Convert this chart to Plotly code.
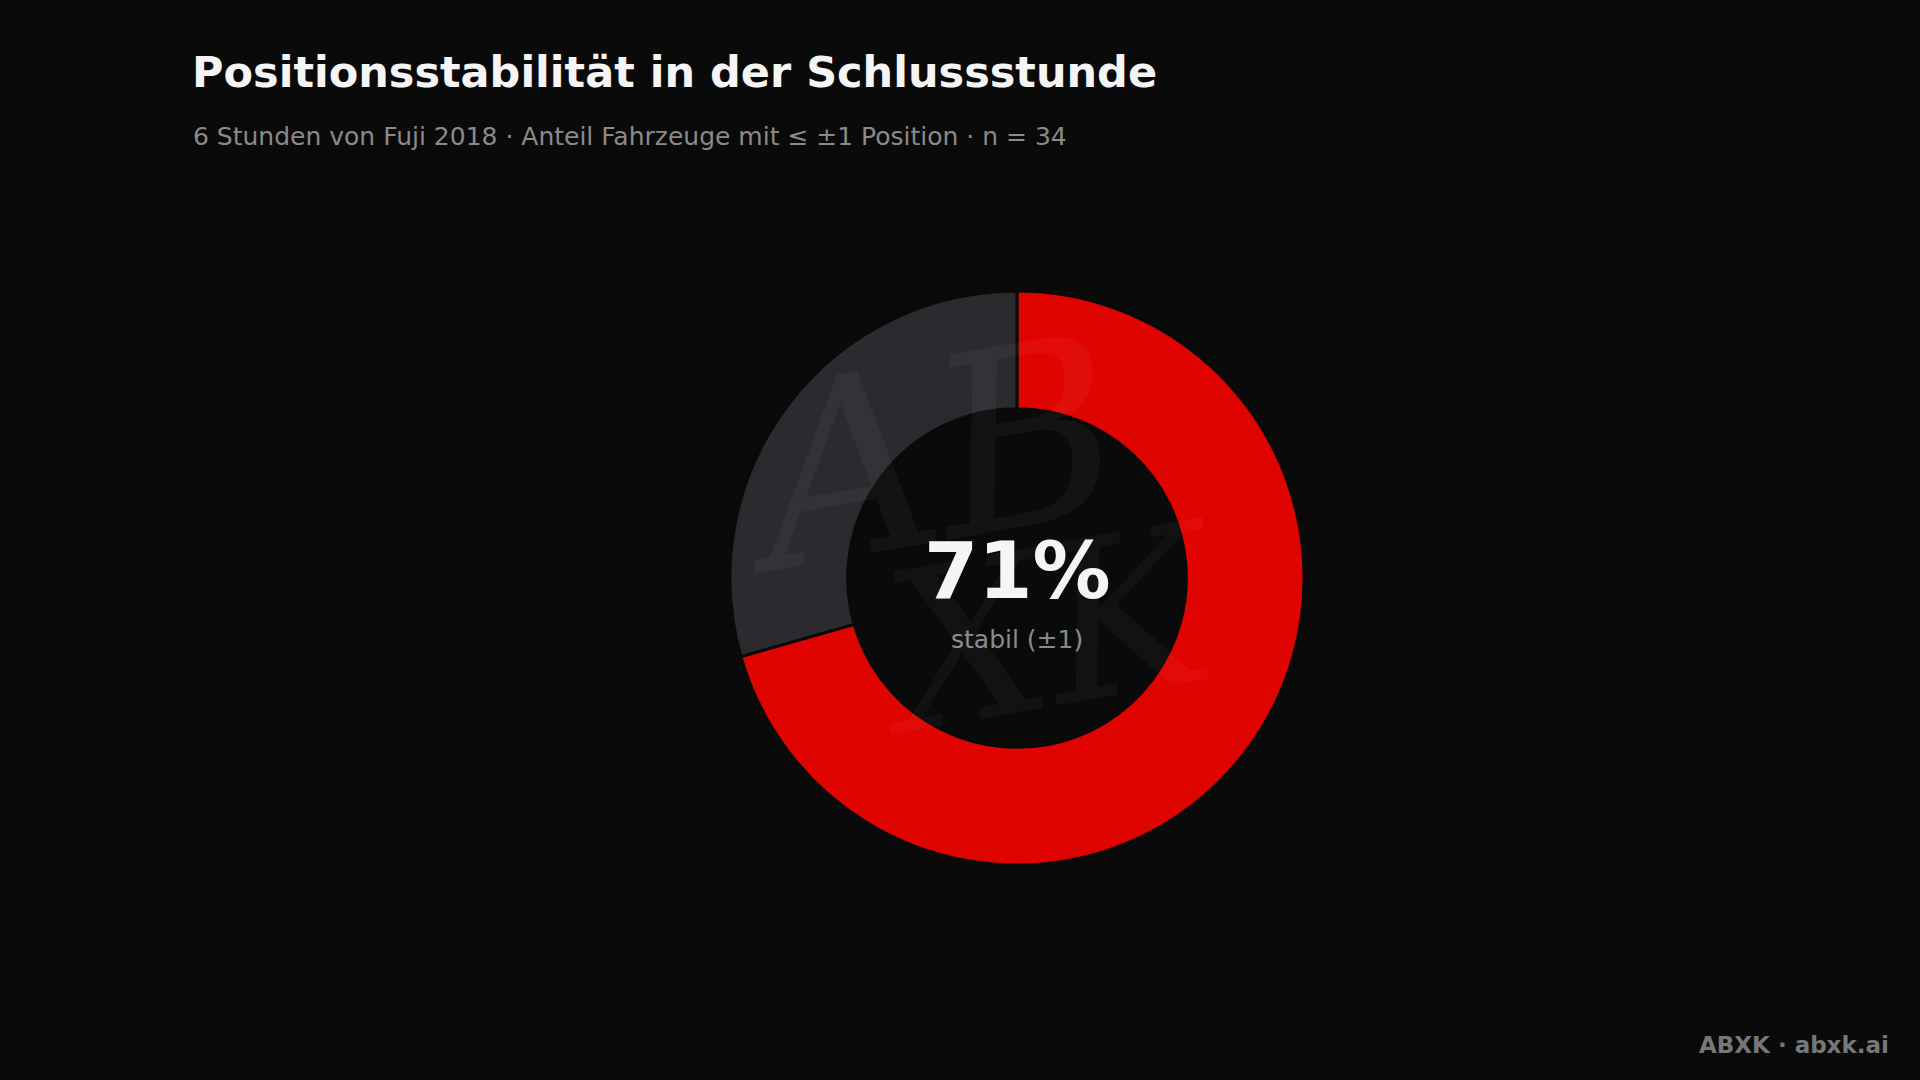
import plotly.graph_objects as go

labels = ["stabil (±1)", "instabil"]
values = [24, 10]
colors = ["#e00400", "#2b2a2f"]

title = "Positionsstabilität in der Schlussstunde"
subtitle = "6 Stunden von Fuji 2018 · Anteil Fahrzeuge mit ≤ ±1 Position · n = 34"
center_value = "71%"
center_label = "stabil (±1)"
footer = "ABXK · abxk.ai"

# page offset of the default body margin
OFF = 8
W, H = 1920 - 2 * OFF, 1080 - 2 * OFF


def px(x):
    return (x - OFF) / W


def py(y):
    return 1 - (y - OFF) / H


cx, cy, r = 1017, 578, 287

fig = go.Figure(go.Pie(
    labels=labels, values=values, hole=0.59, sort=False, direction="clockwise",
    rotation=0, textinfo="none", hoverinfo="label+value+percent",
    marker=dict(colors=colors, line=dict(color="#0a0a0a", width=3)),
    domain=dict(x=[px(cx - r), px(cx + r)], y=[py(cy + r), py(cy - r)]),
    showlegend=False,
))

font = "DejaVu Sans"
ann = [
    dict(text=f"<b>{title}</b>", x=px(190), y=py(72), xanchor="left", yanchor="middle",
         font=dict(family=font, size=43, color="#f5f5f5")),
    dict(text=subtitle, x=px(191), y=py(137), xanchor="left", yanchor="middle",
         font=dict(family=font, size=25, color="#8a8a8a")),
    dict(text=f"<b>{center_value}</b>", x=px(cx), y=py(571), xanchor="center", yanchor="middle",
         font=dict(family=font, size=78, color="#f5f5f5")),
    dict(text=center_label, x=px(cx), y=py(639), xanchor="center", yanchor="middle",
         font=dict(family=font, size=25, color="#8a8a8a")),
    dict(text=f"<b>{footer}</b>", x=px(1891), y=py(1045), xanchor="right", yanchor="middle",
         font=dict(family=font, size=23, color="#777777")),
    # faint watermark
    dict(text="<i>AB</i>", x=px(cx - 90), y=py(455), xanchor="center", yanchor="middle",
         textangle=-10, font=dict(family="DejaVu Serif", size=250, color="rgba(255,255,255,0.04)")),
    dict(text="<i>XK</i>", x=px(cx + 30), y=py(630), xanchor="center", yanchor="middle",
         textangle=-10, font=dict(family="DejaVu Serif", size=220, color="rgba(255,255,255,0.035)")),
]
for a in ann:
    a.update(xref="paper", yref="paper", showarrow=False)

fig.update_layout(
    width=W, height=H, paper_bgcolor="#0a0a0a", plot_bgcolor="#0a0a0a",
    margin=dict(l=0, r=0, t=0, b=0), annotations=ann,
)
fig.write_html("out.html", post_script="document.body.style.background='#0a0a0a';")
